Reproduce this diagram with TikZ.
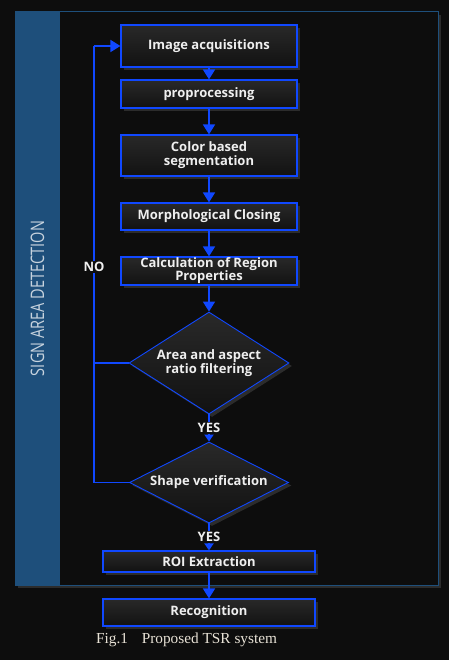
\documentclass[tikz,border=0pt]{standalone}
\usepackage{fontspec}
\setmainfont{Liberation Serif}
\setsansfont{Open Sans}
\usetikzlibrary{shapes.geometric,arrows.meta,shadows}
\definecolor{bgc}{HTML}{0D0D0D}
\definecolor{bandc}{HTML}{1E4F7B}
\definecolor{linec}{HTML}{1048FF}
\definecolor{txtc}{HTML}{EFEFEF}
\definecolor{shadc}{HTML}{2C2C2C}
\definecolor{capc}{HTML}{E8E2D6}
\tikzset{
  boxbase/.style={draw=linec, line width=1.2pt, top color=black!84, bottom color=black!93,
    text=txtc, font=\sffamily\bfseries\fontsize{13}{14}\selectfont, align=center, inner sep=0pt,
    drop shadow={shadow xshift=3pt, shadow yshift=-3pt, fill=shadc, opacity=1}},
  stepbox/.style={boxbase, rectangle, minimum width=176pt},
  widebox/.style={boxbase, rectangle, minimum width=212pt},
  decbox/.style={boxbase, diamond, line width=0.9pt, inner sep=0pt},
  flow/.style={linec, line width=1.8pt, -{Triangle[width=12pt,length=10pt]}},
  smallflow/.style={linec, line width=1.8pt, -{Triangle[width=9pt,length=7pt]}},
  loopline/.style={linec, line width=1.8pt},
  lbl/.style={text=txtc, font=\sffamily\bfseries\fontsize{13}{14}\selectfont, fill=bgc, inner sep=1.5pt}
}
\begin{document}
\begin{tikzpicture}[x=1pt,y=-1pt]
\useasboundingbox (0,0) rectangle (449,660);
\fill[bgc] (0,0) rectangle (449,660);
% frame
\fill[shadc] (18,15) rectangle (441,588);
\draw[bandc, line width=1pt, fill=bgc] (15,12) rectangle (438,585);
\fill[bandc] (15,12) rectangle (60,585);
\node[rotate=90, text=bandc!25!white, inner sep=0pt] (title) at (37.5,298.5)
  {\resizebox{155pt}{13.5pt}{\sffamily SIGN AREA DETECTION}};
% nodes
\node[stepbox, minimum height=42pt] (b1) at (209,46) {Image acquisitions};
\node[stepbox, minimum height=28pt] (b2) at (209,94) {proprocessing};
\node[stepbox, minimum height=41pt] (b3) at (209,155.5) {Color based\\segmentation};
\node[stepbox, minimum height=27pt] (b4) at (209,216.5) {Morphological Closing};
\node[stepbox, minimum height=28pt] (b5) at (209,271) {Calculation of Region\\[-1pt]Properties};
\node[decbox, aspect=1.57, minimum width=160pt, minimum height=102pt] (d1) at (209,363) {Area and aspect\\ratio filtering};
\node[decbox, aspect=1.96, minimum width=159pt, minimum height=81pt] (d2) at (209,482.5) {Shape verification};
\node[widebox, minimum height=21pt] (b6) at (209,561.5) {ROI Extraction};
\node[widebox, minimum height=27pt] (b7) at (209,612.5) {Recognition};
% connectors
\draw[flow] (b1) -- (b2);
\draw[flow] (b2) -- (b3);
\draw[flow] (b3) -- (b4);
\draw[flow] (b4) -- (b5);
\draw[flow] (b5) -- (d1);
\draw[smallflow] (d1) -- node[lbl] (yes1) {YES} (d2);
\draw[smallflow] (d2) -- node[lbl] (yes2) {YES} (b6);
\draw[flow] (b6) -- (b7);
\coordinate (lt) at (94,46);
\coordinate (lb) at (94,482.5);
\coordinate (lm) at (94,363);
\draw[loopline] (d2.west) -- (lb) -- (lt);
\draw[flow] (lt) -- (b1.west);
\draw[loopline] (d1.west) -- (lm);
\node[lbl] (no) at (94,267) {NO};
% caption
\node[text=capc, font=\fontsize{15.3}{17}\selectfont, anchor=west, inner sep=0pt] (cap) at (96,640) {Fig.1\hspace{0.9em}Proposed TSR system};
\end{tikzpicture}
\end{document}
